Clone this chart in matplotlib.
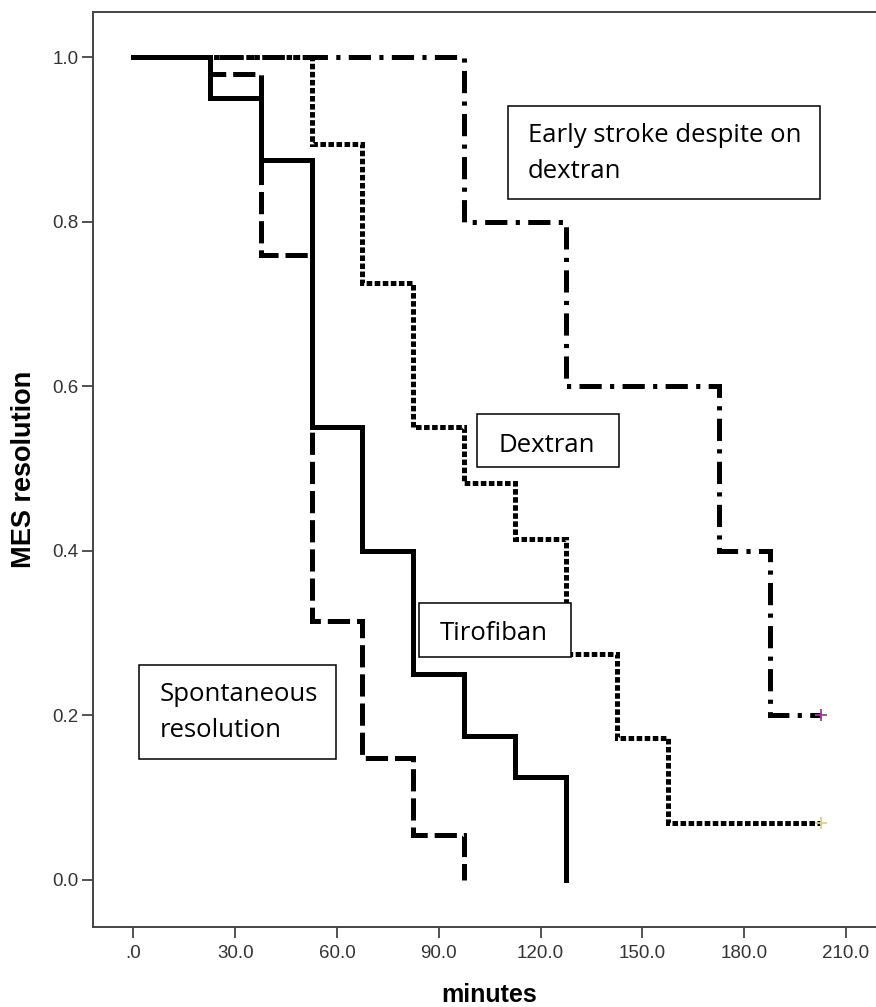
import matplotlib.pyplot as plt
from matplotlib.patches import Rectangle

# Kaplan-Meier steps: time (minutes) and MES resolution
tirofiban_t = [0, 22.5, 37.5, 52.5, 67.5, 82.5, 97.5, 112.5, 127.5]
tirofiban_s = [1.0, 0.95, 0.875, 0.55, 0.40, 0.25, 0.175, 0.125, 0.0]

spont_t = [0, 22.5, 37.5, 52.5, 67.5, 82.5, 97.5]
spont_s = [1.0, 0.98, 0.76, 0.315, 0.148, 0.055, 0.0]

dextran_t = [0, 52.5, 67.5, 82.5, 97.5, 112.5, 127.5, 142.5, 157.5, 202.5]
dextran_s = [1.0, 0.895, 0.725, 0.55, 0.483, 0.414, 0.275, 0.172, 0.069, 0.069]

early_t = [0, 97.5, 127.5, 172.5, 187.5, 202.5]
early_s = [1.0, 0.80, 0.60, 0.40, 0.20, 0.20]

# censored cases at the end of follow-up
censor_t = [202.5, 202.5]
censor_s = [0.20, 0.069]
censor_colors = ['#a03aa8', '#d6d28c']

x_ticks = [0, 30, 60, 90, 120, 150, 180, 210]
x_ticklabels = ['.0', '30.0', '60.0', '90.0', '120.0', '150.0', '180.0', '210.0']
y_ticks = [0.0, 0.2, 0.4, 0.6, 0.8, 1.0]
y_ticklabels = ['0.0', '0.2', '0.4', '0.6', '0.8', '1.0']

W, H = 876, 1007
plt.rcParams['lines.scale_dashes'] = False

fig = plt.figure(figsize=(W / 100, H / 100), dpi=100)
ax = fig.add_axes([92.7 / W, 1 - 926.7 / H, (885 - 92.7) / W, (926.7 - 12) / H])

lw = 3.6
common = dict(drawstyle='steps-post', color='black', lw=lw,
              solid_joinstyle='miter', dash_capstyle='butt', dash_joinstyle='miter')

ax.plot(early_t, early_s, dashes=(16, 6, 3, 6), **common)
ax.plot(dextran_t, dextran_s, dashes=(4, 1.8), **common)
ax.plot(spont_t, spont_s, dashes=(16, 5), **common)
ax.plot(tirofiban_t, tirofiban_s, **common)

for t, s, c in zip(censor_t, censor_s, censor_colors):
    ax.plot(t, s, marker='+', ms=9, mew=1.3, color=c, zorder=5)

ax.set_xlim(-12, 221.5)
ax.set_ylim(-0.0568, 1.055)
ax.set_xticks(x_ticks)
ax.set_xticklabels(x_ticklabels)
ax.set_yticks(y_ticks)
ax.set_yticklabels(y_ticklabels)

for side in ['left', 'bottom', 'top', 'right']:
    ax.spines[side].set_color('#444444')
    ax.spines[side].set_linewidth(1.4)
ax.tick_params(axis='both', direction='out', length=8, width=1.3, color='#444444',
               labelcolor='#333333', labelsize=13.5)
ax.tick_params(axis='x', pad=5)
ax.tick_params(axis='y', pad=2)
for lbl in ax.get_xticklabels() + ax.get_yticklabels():
    lbl.set_fontfamily('Liberation Sans')

ax.set_ylabel('MES resolution', fontsize=19.5, fontweight='bold', family='Liberation Sans', va='center')
ax.yaxis.set_label_coords((24 - 92.7) / (885 - 92.7), 0.5)
ax.set_xlabel('minutes', fontsize=18, fontweight='bold', family='Liberation Sans', va='baseline')
ax.xaxis.set_label_coords(0.5, (926.7 - 1002) / (926.7 - 12))


def label_box(left, top, right, bottom, text_x, baseline, text):
    # box and label placed in pixel units of the figure; baseline is that of the last line
    fig.patches.append(Rectangle((left / W, 1 - bottom / H), (right - left) / W,
                                 (bottom - top) / H, transform=fig.transFigure,
                                 fill=True, facecolor='white', edgecolor='black', lw=1.1))
    fig.text(text_x / W, 1 - baseline / H, text, fontsize=18.5, family='Open Sans',
             ha='left', va='baseline', linespacing=1.58)


label_box(507.7, 106, 820, 199.3, 528, 178.3, 'Early stroke despite on\ndextran')
label_box(477.3, 414, 619, 466.7, 498, 451.7, 'Dextran')
label_box(419.3, 602.7, 570.7, 656.7, 440, 640, 'Tirofiban')
label_box(139.3, 665, 336, 759, 159.3, 736.7, 'Spontaneous\nresolution')

fig.savefig('out.png', dpi=100)
